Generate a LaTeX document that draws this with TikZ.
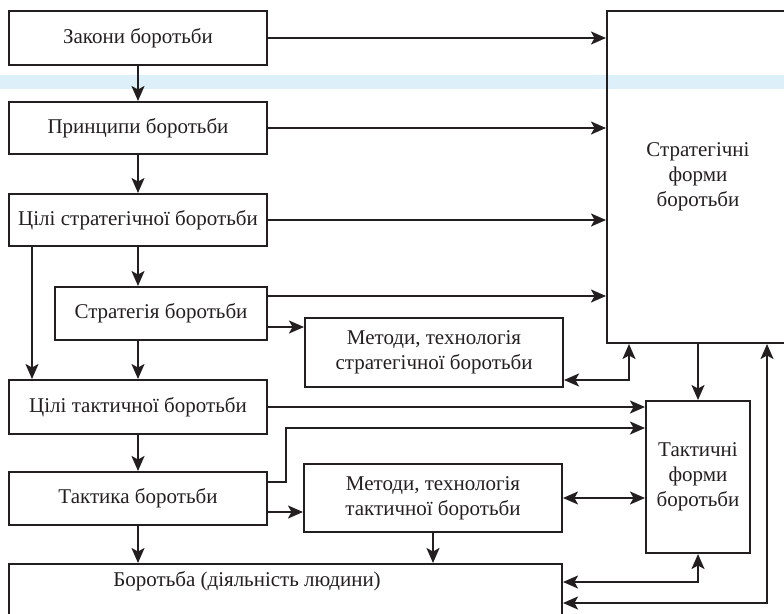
\documentclass[tikz,border=0pt]{standalone}
\usepackage{fontspec}
\setmainfont{Liberation Serif}
\usetikzlibrary{arrows.meta,calc}
\definecolor{ink}{RGB}{35,31,32}
\definecolor{band}{RGB}{221,239,248}
\begin{document}
\begin{tikzpicture}[x=1pt,y=-1pt,
  box/.style={draw=ink,line width=2pt,rectangle,inner sep=0pt,anchor=north west,align=center,text=ink,
    font=\fontsize{21}{25}\selectfont},
  conn/.style={draw=ink,line width=2pt},
  arr/.style={conn,-{Stealth[length=15pt,width=13pt,inset=3.5pt]}},
  arrboth/.style={conn,{Stealth[length=15pt,width=13pt,inset=3.5pt]}-{Stealth[length=15pt,width=13pt,inset=3.5pt]}},
  lbl/.style={text=ink,align=center,font=\fontsize{21}{25}\selectfont}]
\useasboundingbox (0,0) rectangle (784,613);
\clip (0,0) rectangle (784,613);
\fill[band] (0,75) rectangle (784,89);
% boxes
\node[box,minimum width=258pt,minimum height=54pt] (zak) at (8,10) {Закони боротьби};
\node[box,minimum width=258pt,minimum height=52pt] (pri) at (8,101) {Принципи боротьби};
\node[box,minimum width=258pt,minimum height=52pt] (cst) at (8,193) {Цілі стратегічної боротьби};
\node[box,minimum width=212pt,minimum height=53pt] (str) at (54,286) {Стратегія боротьби};
\node[box,minimum width=258pt,minimum height=69pt] (mst) at (304,317) {Методи, технологія\\стратегічної боротьби};
\node[box,minimum width=258pt,minimum height=54pt] (ctk) at (8,379) {Цілі тактичної боротьби};
\node[box,minimum width=258pt,minimum height=53pt] (tak) at (8,471) {Тактика боротьби};
\node[box,minimum width=258pt,minimum height=68pt] (mtk) at (303,463) {Методи, технологія\\тактичної боротьби};
\node[box,minimum width=553pt,minimum height=60pt] (bor) at (8,563) {};
\node[lbl] (borl) at (247,581) {Боротьба (діяльність людини)};
\node[box,minimum width=182pt,minimum height=332pt] (sf) at (606,10) {Стратегічні\\форми\\боротьби};
\node[box,minimum width=104pt,minimum height=152pt] (tf) at (645,400) {Тактичні\\форми\\боротьби};
% connectors to strategic forms
\draw[arr] (zak.east) -- (zak.east -| sf.west);
\draw[arr] (pri.east) -- (pri.east -| sf.west);
\draw[arr] (cst.east) -- (cst.east -| sf.west);
\draw[arr] ($(str.north east)+(0,10)$) coordinate (s1) -- (s1 -| sf.west);
\draw[arr] ($(str.north east)+(0,41)$) coordinate (s2) -- (s2 -| mst.west);
\draw[arrboth] ($(mst.south east)+(0,-8)$) -| ($(sf.south west)+(23,0)$);
\draw[arr] (tf.north |- sf.south) -- (tf.north);
% tactical
\draw[arr] (ctk.east) -- (ctk.east -| tf.west);
\draw[arr] ($(tak.north east)+(0,11)$) -- ++(18,0) |- ($(tf.north west)+(0,28)$);
\draw[arr] ($(tak.north east)+(0,41)$) coordinate (t2) -- (t2 -| mtk.west);
\draw[arrboth] (mtk.east) -- (mtk.east -| tf.west);
\draw[arr] (mtk.south) -- (mtk.south |- bor.north);
\draw[arrboth] ($(bor.north east)+(0,19)$) -| (tf.south);
\draw[arrboth] ($(bor.north east)+(0,40)$) -| ($(sf.south west)+(161,0)$);
% vertical chain
\draw[arr] (zak.south) -- (pri.north);
\draw[arr] (pri.south) -- (cst.north);
\draw[arr] (cst.south) -- (cst.south |- str.north);
\draw[arr] (cst.south |- str.south) -- (ctk.north);
\draw[arr] (ctk.south) -- (tak.north);
\draw[arr] (tak.south) -- (tak.south |- bor.north);
\draw[arr] ($(cst.south west)+(24,0)$) coordinate (l1) -- (l1 |- ctk.north);
\end{tikzpicture}
\end{document}
